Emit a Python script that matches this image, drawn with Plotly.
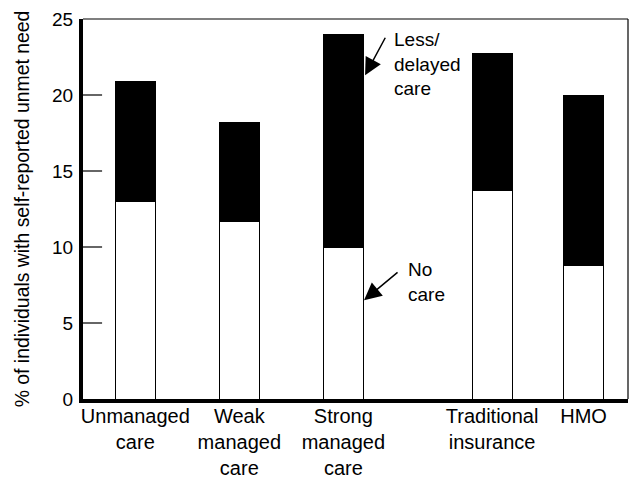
import plotly.graph_objects as go

categories = ["Unmanaged<br>care", "Weak<br>managed<br>care", "Strong<br>managed<br>care",
              "Traditional<br>insurance", "HMO"]
# slot positions along the x axis (gap before the insurance-type group)
x_pos = [1.0, 2.0, 3.0, 4.43, 5.31]
no_care = [13.0, 11.7, 10.0, 13.7, 8.8]
less_delayed = [7.9, 6.5, 14.0, 9.0, 11.2]
y_ticks = [0, 5, 10, 15, 20, 25]

FONT = "Liberation Sans, Arial, Helvetica, sans-serif"

fig = go.Figure()
fig.add_trace(go.Bar(x=x_pos, y=no_care, name="No care", width=0.385,
                     marker=dict(color="white", line=dict(color="black", width=1))))
fig.add_trace(go.Bar(x=x_pos, y=less_delayed, name="Less/delayed care", width=0.385,
                     marker=dict(color="black", line=dict(color="black", width=1))))

# inward tick marks on the value axis (drawn at the axis' own tick values)
tick_shapes = [dict(type="line", xref="paper", yref="y", x0=0, x1=0.035, y0=v, y1=v,
                    line=dict(color="#333", width=1.5))
               for v in y_ticks[1:-1]]

fig.update_layout(
    barmode="stack",
    width=632, height=480,
    margin=dict(l=83, r=4, t=19, b=81),
    paper_bgcolor="white", plot_bgcolor="white",
    showlegend=False,
    font=dict(family=FONT, color="black"),
    xaxis=dict(range=[0.497, 5.737], tickvals=x_pos, ticktext=categories,
               automargin=False,
               showgrid=False, zeroline=False, showline=True, linecolor="black",
               linewidth=4, ticks="", ticklabelstandoff=-4,
               tickfont=dict(size=20, color="black")),
    yaxis=dict(range=[0, 25], tickvals=y_ticks, showgrid=False, zeroline=False,
               automargin=False,
               showline=True, linecolor="black", linewidth=4,
               ticks="", ticklabelstandoff=2,
               tickfont=dict(size=19, color="black"),
               title=dict(text="% of individuals with self-reported unmet need",
                          font=dict(size=19.4, color="black"), standoff=18)),
    shapes=tick_shapes + [
        dict(type="line", xref="paper", yref="paper", x0=0, x1=1, y0=1, y1=1,
             line=dict(color="black", width=1.2)),
        dict(type="line", xref="paper", yref="paper", x0=1, x1=1, y0=0, y1=1,
             line=dict(color="black", width=1.2)),
    ],
    annotations=[
        dict(x=3.468, y=24.49, xref="x", yref="y", text="Less/<br>delayed<br>care",
             showarrow=False, xanchor="left", yanchor="top", align="left",
             font=dict(size=19, color="black")),
        dict(x=3.209, y=21.3, xref="x", yref="y", text="", showarrow=True,
             ax=21, ay=-39, arrowhead=2, arrowsize=2.3, arrowwidth=1.5, arrowcolor="black"),
        dict(x=3.603, y=9.34, xref="x", yref="y", text="No<br>care",
             showarrow=False, xanchor="left", yanchor="top", align="left",
             font=dict(size=19, color="black")),
        dict(x=3.199, y=6.5, xref="x", yref="y", text="", showarrow=True,
             ax=35, ay=-29, arrowhead=2, arrowsize=2.3, arrowwidth=1.5, arrowcolor="black"),
    ],
)

fig.write_html("out.html", config={"displayModeBar": False},
               post_script="document.body.style.margin='0';")
